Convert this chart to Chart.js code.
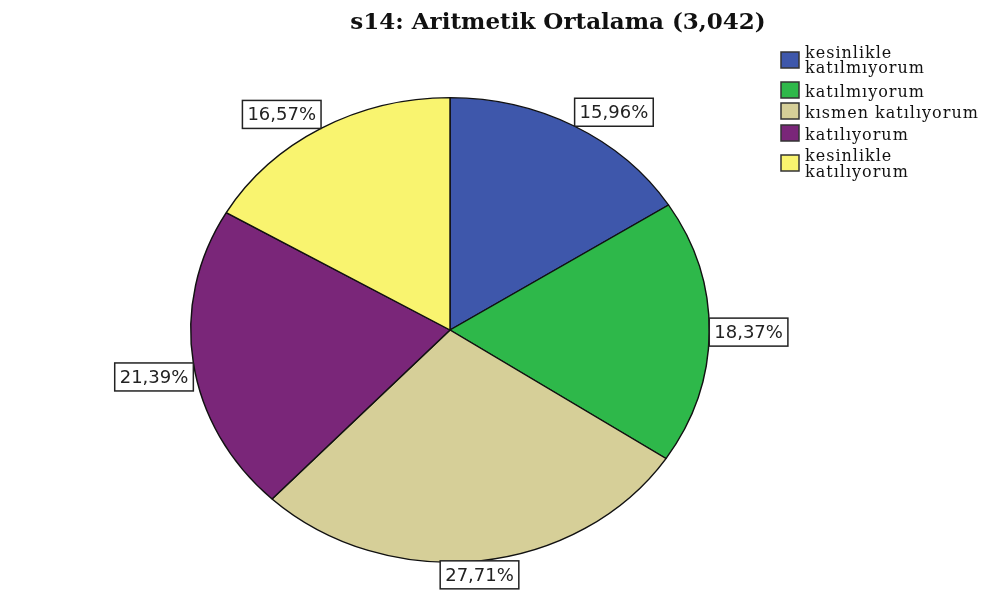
<!DOCTYPE html>
<html>
<head>
<meta charset="utf-8">
<script src="https://cdn.jsdelivr.net/npm/chart.js@4.4.0/dist/chart.umd.min.js"></script>
<style>
  html, body { margin: 0; padding: 0; background: #fff; }
  #wrap { width: 984px; height: 597px; position: relative; }
</style>
</head>
<body>
<div id="wrap"><canvas id="pieChart"></canvas></div>
<script>
const titleText = 's14: Aritmetik Ortalama (3,042)';
const categories = ['kesinlikle katılmıyorum', 'katılmıyorum', 'kısmen katılıyorum', 'katılıyorum', 'kesinlikle katılıyorum'];
const legendLines = [['kesinlikle', 'katılmıyorum'], ['katılmıyorum'], ['kısmen katılıyorum'], ['katılıyorum'], ['kesinlikle', 'katılıyorum']];
const percents = [15.96, 18.37, 27.71, 21.39, 16.57];
const colors = ['#3E57AB', '#2EB84A', '#D6CF98', '#7A2679', '#F9F46F'];

// SPSS draws the pie a bit wider than tall
const SX = 260 / 233;

const ellipse = {
    id: 'ellipse',
    beforeDatasetsDraw(chart) {
        const a = chart.getDatasetMeta(0).data[0];
        const ctx = chart.ctx;
        ctx.save();
        ctx.translate(a.x, a.y);
        ctx.scale(SX, 1);
        ctx.translate(-a.x, -a.y);
    },
    afterDatasetsDraw(chart) {
        chart.ctx.restore();
    }
};

const decor = {
    id: 'decor',
    afterDraw(chart) {
        const ctx = chart.ctx;
        ctx.save();

        // title
        ctx.fillStyle = '#111';
        ctx.font = 'bold 23px "DejaVu Serif"';
        ctx.textAlign = 'center';
        ctx.textBaseline = 'alphabetic';
        ctx.fillText(titleText, 558, 29);

        // value labels
        ctx.font = '18px "DejaVu Sans"';
        ctx.textBaseline = 'middle';
        const meta = chart.getDatasetMeta(0);
        meta.data.forEach(function(arc, i) {
            const mid = (arc.startAngle + arc.endAngle) / 2;
            const dx = Math.cos(mid), dy = Math.sin(mid);
            const ax = arc.x + dx * arc.outerRadius * SX;
            const ay = arc.y + dy * arc.outerRadius;
            const txt = percents[i].toFixed(2).replace('.', ',') + '%';
            const w = ctx.measureText(txt).width + 10;
            const h = 28;
            let bx, by;
            if (dx > 0.3) bx = ax;
            else if (dx < -0.3) bx = ax - w;
            else bx = ax - w / 2;
            if (dy < -0.1) by = ay - h;
            else if (dy > 0.1) by = ay;
            else by = ay - h / 2;
            ctx.fillStyle = '#fff';
            ctx.fillRect(bx, by, w, h);
            ctx.strokeStyle = '#222';
            ctx.lineWidth = 1.5;
            ctx.strokeRect(bx, by, w, h);
            ctx.fillStyle = '#222';
            ctx.textAlign = 'center';
            ctx.fillText(txt, bx + w / 2, by + h / 2 + 1);
        });

        // legend
        const swatchY = [52, 82, 103, 125, 155];
        const baselines = [[58, 73], [97], [118], [140], [161, 177]];
        ctx.font = '16px "DejaVu Serif"';
        ctx.letterSpacing = '1px';
        ctx.textAlign = 'left';
        ctx.textBaseline = 'alphabetic';
        legendLines.forEach(function(lines, i) {
            ctx.fillStyle = colors[i];
            ctx.fillRect(781, swatchY[i], 18, 16);
            ctx.strokeStyle = '#333';
            ctx.lineWidth = 1.5;
            ctx.strokeRect(781, swatchY[i], 18, 16);
            ctx.fillStyle = '#111';
            lines.forEach(function(line, j) {
                ctx.fillText(line, 805, baselines[i][j]);
            });
        });
        ctx.restore();
    }
};

const ctx = document.getElementById('pieChart').getContext('2d');
const myChart = new Chart(ctx, {
    type: 'pie',
    data: {
        labels: categories,
        datasets: [{
            data: percents,
            backgroundColor: colors,
            borderColor: '#111',
            borderWidth: 1.3,
            hoverOffset: 0
        }]
    },
    options: {
        responsive: true,
        maintainAspectRatio: false,
        animation: false,
        events: [],
        layout: {
            padding: { top: 97, bottom: 34, left: 0, right: 84 }
        },
        plugins: {
            legend: { display: false },
            title: { display: false },
            tooltip: { enabled: false }
        }
    },
    plugins: [ellipse, decor]
});
</script>
</body>
</html>
